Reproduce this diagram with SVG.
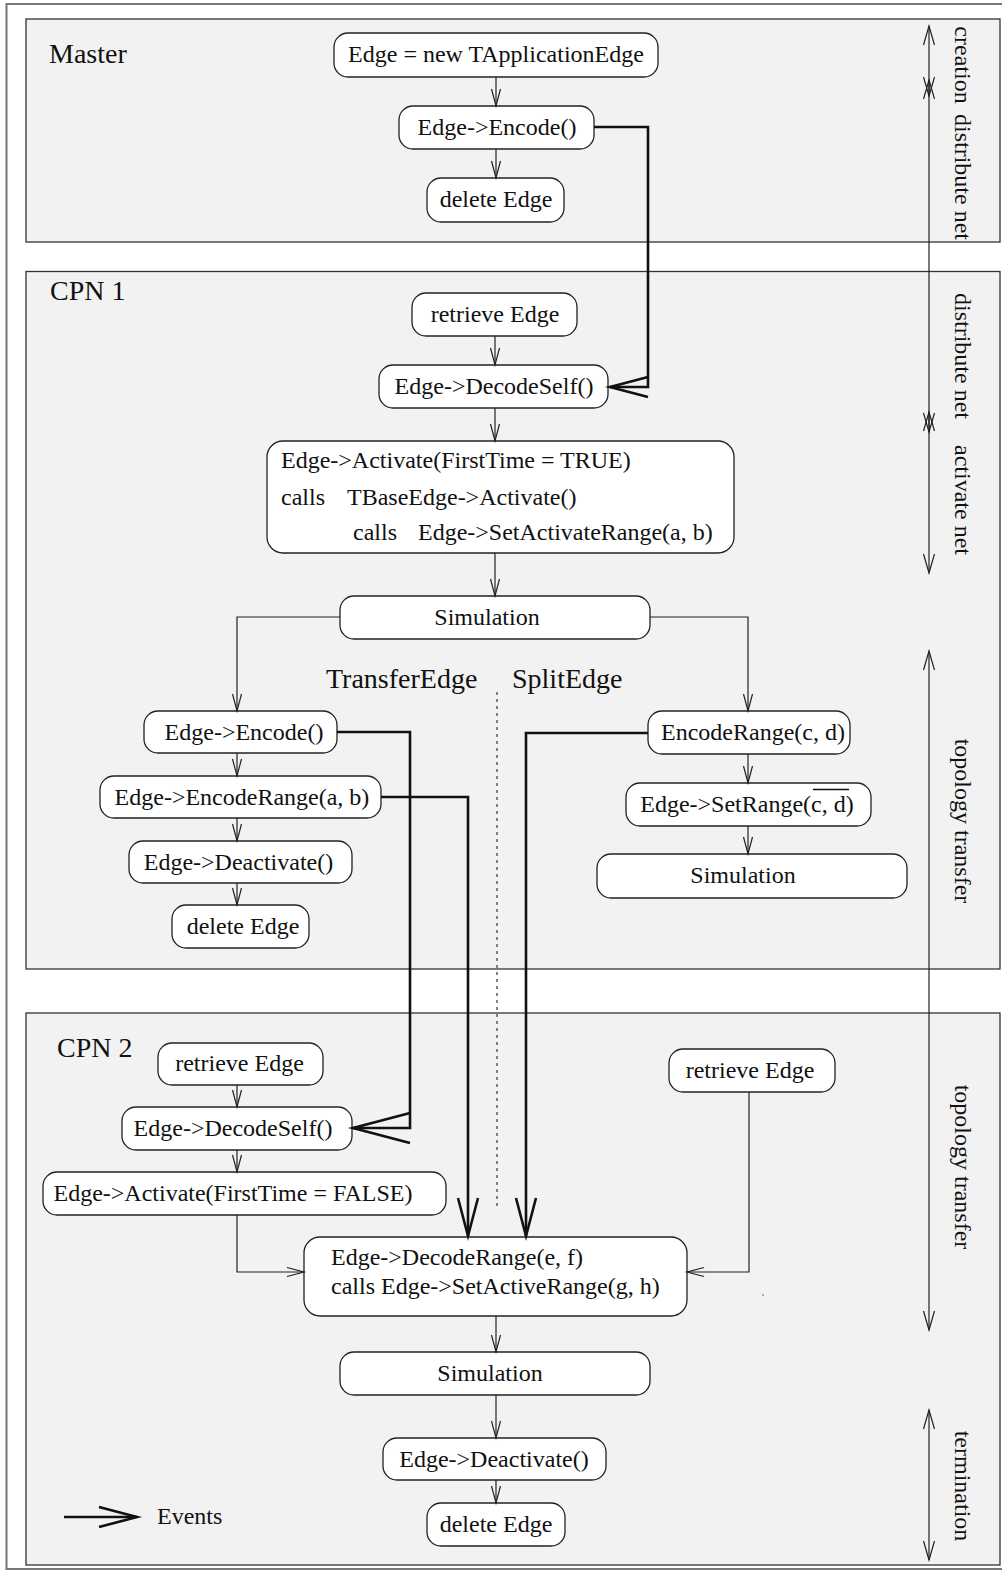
<svg xmlns="http://www.w3.org/2000/svg" width="1002" height="1575" viewBox="0 0 1002 1575">
  <style>
    text { font-family: "Liberation Serif", "Times New Roman", serif; fill: #111; }
    .lbl { font-size: 24px; }
    .ctr { font-size: 24px; text-anchor: middle; }
    .title { font-size: 28px; }
    .side { font-size: 24px; text-anchor: middle; }
    .panel { fill: #f2f2f2; stroke: #333; stroke-width: 1.3; }
    .node rect { fill: #fff; stroke: #222; stroke-width: 1.3; }
    .flow { fill: none; stroke: #222; stroke-width: 1.2; marker-end: url(#arr); }
    .event { fill: none; stroke: #111; stroke-width: 2.6; }
    .scale { fill: none; stroke: #222; stroke-width: 1.2; marker-start: url(#sarr); marker-end: url(#sarr); }
  </style>
  <defs>
    <marker id="arr" markerUnits="userSpaceOnUse" markerWidth="40" markerHeight="20" refX="0" refY="0" orient="auto" overflow="visible">
      <path d="M-17,-4.5 L0,0 L-17,4.5" fill="none" stroke="#222" stroke-width="1.2"/>
    </marker>
    <marker id="sarr" markerUnits="userSpaceOnUse" markerWidth="40" markerHeight="20" refX="0" refY="0" orient="auto-start-reverse" overflow="visible">
      <path d="M-19,-5.5 L0,0 L-19,5.5" fill="none" stroke="#222" stroke-width="1.2"/>
    </marker>
    <marker id="ev" markerUnits="userSpaceOnUse" markerWidth="80" markerHeight="40" refX="0" refY="0" orient="auto" overflow="visible">
      <path d="M-38,-10 L0,0 L-38,10" fill="none" stroke="#111" stroke-width="2.6"/>
    </marker>
    <marker id="ev2" markerUnits="userSpaceOnUse" markerWidth="120" markerHeight="40" refX="0" refY="0" orient="auto" overflow="visible">
      <path d="M-57,-15 L0,0 L-57,15" fill="none" stroke="#111" stroke-width="2.6"/>
    </marker>
  </defs>

  <rect width="1002" height="1575" fill="#fff"/>
  <!-- outer frame -->
  <rect x="6.5" y="4" width="1000" height="1565" fill="none" stroke="#777" stroke-width="2"/>

  <!-- process panels -->
  <g id="panel-master">
    <rect class="panel" x="26" y="19" width="974" height="223"/>
    <text class="title" x="49" y="63">Master</text>
  </g>
  <g id="panel-cpn1">
    <rect class="panel" x="26" y="271.5" width="974" height="697.5"/>
    <text class="title" x="50" y="300">CPN 1</text>
    <text class="title" x="326" y="688">TransferEdge</text>
    <text class="title" x="512" y="688">SplitEdge</text>
  </g>
  <g id="panel-cpn2">
    <rect class="panel" x="26" y="1013" width="974" height="552"/>
    <text class="title" x="57" y="1057">CPN 2</text>
  </g>

  <!-- divider between TransferEdge and SplitEdge -->
  <path d="M497,692 V1210" stroke="#333" stroke-width="1.2" stroke-dasharray="3 4" fill="none"/>

  <!-- Master nodes -->
  <g id="m-new" class="node">
    <rect x="334" y="33" width="324" height="44" rx="14"/>
    <text class="ctr" x="496" y="62">Edge = new TApplicationEdge</text>
  </g>
  <g id="m-encode" class="node">
    <rect x="399" y="106" width="195" height="43" rx="14"/>
    <text class="ctr" x="497" y="135">Edge-&gt;Encode()</text>
  </g>
  <g id="m-delete" class="node">
    <rect x="427" y="178" width="137" height="44" rx="14"/>
    <text class="ctr" x="496" y="207">delete Edge</text>
  </g>

  <!-- CPN 1 nodes -->
  <g id="c1-retrieve" class="node">
    <rect x="412" y="293" width="165" height="43" rx="14"/>
    <text class="ctr" x="495" y="322">retrieve Edge</text>
  </g>
  <g id="c1-decodeself" class="node">
    <rect x="379" y="365" width="229" height="43" rx="14"/>
    <text class="ctr" x="494" y="394">Edge-&gt;DecodeSelf()</text>
  </g>
  <g id="c1-activate" class="node">
    <rect x="267" y="441" width="467" height="112" rx="16"/>
    <text class="lbl" x="281" y="468">Edge-&gt;Activate(FirstTime = TRUE)</text>
    <text class="lbl" y="505"><tspan x="281">calls</tspan><tspan x="347">TBaseEdge-&gt;Activate()</tspan></text>
    <text class="lbl" y="540"><tspan x="353">calls</tspan><tspan x="418">Edge-&gt;SetActivateRange(a, b)</tspan></text>
  </g>
  <g id="c1-simulation" class="node">
    <rect x="340" y="596" width="310" height="43" rx="14"/>
    <text class="ctr" x="487" y="625">Simulation</text>
  </g>
  <g id="c1-encode" class="node">
    <rect x="144" y="711" width="193" height="42" rx="14"/>
    <text class="ctr" x="244" y="740">Edge-&gt;Encode()</text>
  </g>
  <g id="c1-encoderange" class="node">
    <rect x="100" y="776" width="281" height="42" rx="14"/>
    <text class="ctr" x="242" y="805">Edge-&gt;EncodeRange(a, b)</text>
  </g>
  <g id="c1-deactivate" class="node">
    <rect x="129" y="841" width="223" height="42" rx="14"/>
    <text class="ctr" x="238.5" y="870">Edge-&gt;Deactivate()</text>
  </g>
  <g id="c1-delete" class="node">
    <rect x="172" y="905" width="137" height="43" rx="14"/>
    <text class="ctr" x="243" y="934">delete Edge</text>
  </g>
  <g id="c1-encoderange-cd" class="node">
    <rect x="648" y="711" width="202" height="43" rx="14"/>
    <text class="ctr" x="753" y="740">EncodeRange(c, d)</text>
  </g>
  <g id="c1-setrange" class="node">
    <rect x="626" y="783" width="245" height="43" rx="14"/>
    <text class="ctr" x="747" y="812">Edge-&gt;SetRange(c, d)</text>
    <line x1="813" y1="789.5" x2="849" y2="789.5" stroke="#111" stroke-width="1.3"/>
  </g>
  <g id="c1-simulation-split" class="node">
    <rect x="597" y="854" width="310" height="44" rx="14"/>
    <text class="ctr" x="743" y="883">Simulation</text>
  </g>

  <!-- CPN 2 nodes -->
  <g id="c2-retrieve" class="node">
    <rect x="158" y="1043" width="165" height="42" rx="14"/>
    <text class="ctr" x="239.5" y="1071">retrieve Edge</text>
  </g>
  <g id="c2-decodeself" class="node">
    <rect x="122" y="1107" width="230" height="43" rx="14"/>
    <text class="ctr" x="233" y="1136">Edge-&gt;DecodeSelf()</text>
  </g>
  <g id="c2-activate" class="node">
    <rect x="43" y="1172" width="403" height="43" rx="14"/>
    <text class="ctr" x="233" y="1201">Edge-&gt;Activate(FirstTime = FALSE)</text>
  </g>
  <g id="c2-retrieve-split" class="node">
    <rect x="669" y="1049" width="166" height="43" rx="14"/>
    <text class="ctr" x="750" y="1078">retrieve Edge</text>
  </g>
  <g id="c2-decoderange" class="node">
    <rect x="304" y="1237" width="383" height="79" rx="16"/>
    <text class="lbl" x="331" y="1265">Edge-&gt;DecodeRange(e, f)</text>
    <text class="lbl" x="331" y="1294">calls Edge-&gt;SetActiveRange(g, h)</text>
  </g>
  <g id="c2-simulation" class="node">
    <rect x="340" y="1352" width="310" height="43" rx="14"/>
    <text class="ctr" x="490" y="1381">Simulation</text>
  </g>
  <g id="c2-deactivate" class="node">
    <rect x="383" y="1438" width="223" height="42" rx="14"/>
    <text class="ctr" x="494" y="1467">Edge-&gt;Deactivate()</text>
  </g>
  <g id="c2-delete" class="node">
    <rect x="427" y="1503" width="138" height="43" rx="14"/>
    <text class="ctr" x="496" y="1532">delete Edge</text>
  </g>

  <!-- connectors -->
  <g id="connectors">
    <!-- control flow -->
    <path class="flow" d="M496,77 V106"/>
    <path class="flow" d="M496,149 V178"/>
    <path class="flow" d="M495,336 V365"/>
    <path class="flow" d="M495,408 V441"/>
    <path class="flow" d="M495,553 V596"/>
    <path class="flow" d="M340,617 H237 V711"/>
    <path class="flow" d="M650,617 H748 V711"/>
    <path class="flow" d="M237,753 V776"/>
    <path class="flow" d="M237,818 V841"/>
    <path class="flow" d="M237,883 V905"/>
    <path class="flow" d="M748,754 V783"/>
    <path class="flow" d="M748,826 V854"/>
    <path class="flow" d="M237,1085 V1107"/>
    <path class="flow" d="M237,1150 V1172"/>
    <path class="flow" d="M237,1215 V1272 H304"/>
    <path class="flow" d="M749,1092 V1272 H687"/>
    <path class="flow" d="M496,1316 V1352"/>
    <path class="flow" d="M496,1395 V1438"/>
    <path class="flow" d="M496,1480 V1503"/>

    <!-- events between processes -->
    <path class="event" d="M594,127 H648 V387 H610" marker-end="url(#ev)"/>
    <path class="event" d="M337,732 H410 V1128 H353" marker-end="url(#ev2)"/>
    <path class="event" d="M381,797 H468 V1236" marker-end="url(#ev)"/>
    <path class="event" d="M648,733 H526 V1236" marker-end="url(#ev)"/>

    <!-- phase scale -->
    <path class="scale" d="M929,26 V96"/>
    <path class="scale" d="M929,80 V432"/>
    <path class="scale" d="M929,412 V573"/>
    <path class="scale" d="M929,651 V1330"/>
    <path class="scale" d="M929,1410 V1560"/>
  </g>

  <!-- phase labels -->
  <g id="phase-labels">
    <text class="side" transform="translate(955,65) rotate(90)">creation</text>
    <text class="side" transform="translate(955,177) rotate(90)">distribute net</text>
    <text class="side" transform="translate(955,356) rotate(90)">distribute net</text>
    <text class="side" transform="translate(955,500) rotate(90)">activate net</text>
    <text class="side" transform="translate(955,821) rotate(90)">topology transfer</text>
    <text class="side" transform="translate(955,1167) rotate(90)">topology transfer</text>
    <text class="side" transform="translate(955,1486) rotate(90)">termination</text>
  </g>

  <!-- legend -->
  <g id="legend">
    <path class="event" d="M64,1517 H137" marker-end="url(#ev)"/>
    <text class="lbl" x="157" y="1524">Events</text>
  </g>

  <circle cx="763" cy="1295" r="0.8" fill="#555"/>
</svg>
